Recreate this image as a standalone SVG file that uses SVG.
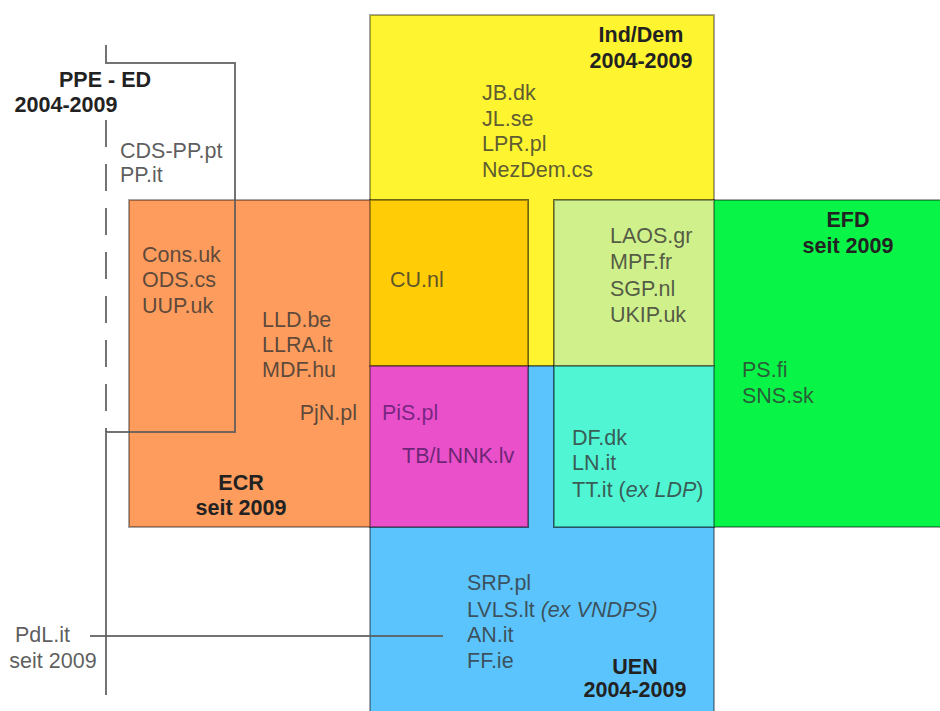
<svg xmlns="http://www.w3.org/2000/svg" width="940" height="711" viewBox="0 0 940 711">
<style>
.t{font-family:"Liberation Sans",Arial,sans-serif;font-size:21.5px;fill:#333;fill-opacity:0.8}
.b{font-family:"Liberation Sans",Arial,sans-serif;font-size:21.5px;font-weight:bold;fill:#222}
.box{stroke:#000;stroke-opacity:0.35;stroke-width:2}
.ln{fill:none;stroke:#5a5a5a;stroke-opacity:0.85;stroke-width:2}
.it{font-style:italic}
</style>
<rect width="940" height="711" fill="#fff"/>
<g id="inddem">
<rect class="box" x="370" y="15" width="344" height="351" fill="#fef42f"/>
<text class="b" x="641" y="42" text-anchor="middle">Ind/Dem</text>
<text class="b" x="641" y="68" text-anchor="middle">2004-2009</text>
<text class="t" x="482" y="100">JB.dk</text>
<text class="t" x="482" y="126">JL.se</text>
<text class="t" x="482" y="151">LPR.pl</text>
<text class="t" x="482" y="177">NezDem.cs</text>
</g>
<g id="uen">
<rect class="box" x="370" y="366" width="344" height="350" fill="#5cc4fc"/>
<text class="t" x="467" y="590">SRP.pl</text>
<text class="t" x="467" y="617">LVLS.lt <tspan class="it">(ex VNDPS)</tspan></text>
<text class="t" x="467" y="642">AN.it</text>
<text class="t" x="467" y="668">FF.ie</text>
<text class="b" x="635" y="674" text-anchor="middle">UEN</text>
<text class="b" x="635" y="697" text-anchor="middle">2004-2009</text>
</g>
<g id="ecr">
<rect class="box" x="129" y="200" width="399" height="327" fill="#fd9c5c"/>
<text class="t" x="142" y="262">Cons.uk</text>
<text class="t" x="142" y="287">ODS.cs</text>
<text class="t" x="142" y="313">UUP.uk</text>
<text class="t" x="262" y="327">LLD.be</text>
<text class="t" x="262" y="352">LLRA.lt</text>
<text class="t" x="262" y="377">MDF.hu</text>
<text class="t" x="357" y="420" text-anchor="end">PjN.pl</text>
<text class="b" x="241" y="490" text-anchor="middle">ECR</text>
<text class="b" x="241" y="515" text-anchor="middle">seit 2009</text>
</g>
<g id="efd">
<rect x="554" y="200" width="390" height="327" fill="#08f548" stroke="#000" stroke-opacity="0.35" stroke-width="2"/>
<text class="b" x="848" y="227" text-anchor="middle">EFD</text>
<text class="b" x="848" y="253" text-anchor="middle">seit 2009</text>
<text class="t" x="742" y="377">PS.fi</text>
<text class="t" x="742" y="403">SNS.sk</text>
</g>
<g id="cu">
<rect class="box" x="370" y="200" width="158" height="166" fill="#ffcc05"/>
<text class="t" x="390" y="287">CU.nl</text>
</g>
<g id="pis">
<rect class="box" x="370" y="366" width="158" height="161" fill="#ea50c9"/>
<text class="t" x="382" y="420" style="fill:#5a1a70">PiS.pl</text>
<text class="t" x="402" y="463" style="fill:#4a1a60">TB/LNNK.lv</text>
</g>
<g id="laos">
<rect class="box" x="554" y="200" width="160" height="166" fill="#cff08a"/>
<text class="t" x="610" y="243">LAOS.gr</text>
<text class="t" x="610" y="269">MPF.fr</text>
<text class="t" x="610" y="296">SGP.nl</text>
<text class="t" x="610" y="322">UKIP.uk</text>
</g>
<g id="df">
<rect class="box" x="554" y="366" width="160" height="161" fill="#50f5d3"/>
<text class="t" x="572" y="445">DF.dk</text>
<text class="t" x="572" y="470">LN.it</text>
<text class="t" x="572" y="497">TT.it (<tspan class="it">ex LDP</tspan>)</text>
</g>
<g id="ppe">
<text class="b" x="105" y="87" text-anchor="middle">PPE - ED</text>
<text class="b" x="66" y="112" text-anchor="middle">2004-2009</text>
<text class="t" x="120" y="158">CDS-PP.pt</text>
<text class="t" x="120" y="182">PP.it</text>
</g>
<g id="pdl">
<text class="t" x="15" y="642">PdL.it</text>
<text class="t" x="53" y="668" text-anchor="middle">seit 2009</text>
</g>
<g id="connectors">
<path class="ln" d="M106,45 V63 H235 V432 H106 V695"/>
<path class="ln" d="M106,120 V432" stroke-dasharray="27,17"/>
<path class="ln" d="M90,636 H443"/>
</g>
</svg>
